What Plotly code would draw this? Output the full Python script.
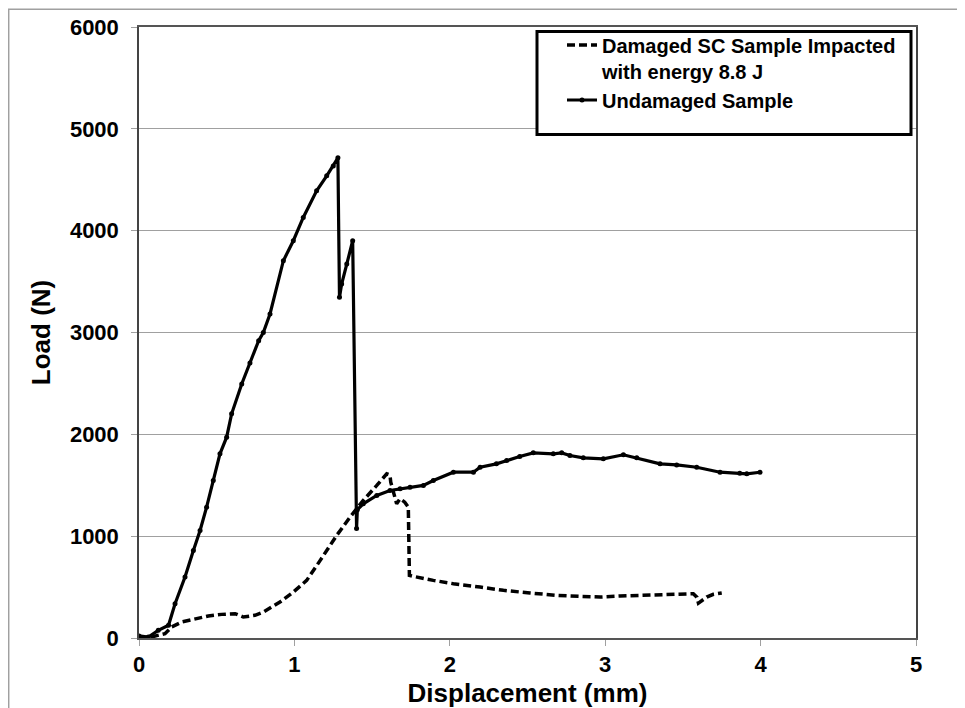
import plotly.graph_objects as go

# Damaged SC sample impacted with energy 8.8 J
dam_x = [0.0, 0.08, 0.167, 0.21, 0.275, 0.36, 0.446, 0.532, 0.618, 0.671, 0.746, 0.80,
         0.907, 0.993, 1.079, 1.165, 1.272, 1.358, 1.443, 1.53, 1.594, 1.615, 1.62,
         1.658, 1.68, 1.71, 1.733, 1.74, 1.765, 1.894, 2.023, 2.195, 2.345, 2.516,
         2.688, 2.838, 2.967, 3.095, 3.224, 3.353, 3.481, 3.567, 3.59, 3.60, 3.653,
         3.696, 3.75]
dam_y = [0, 10, 43, 108, 157, 190, 216, 232, 239, 206, 223, 255,
         353, 451, 566, 760, 1007, 1187, 1351, 1498, 1612, 1600, 1530,
         1318, 1367, 1334, 1285, 615, 605, 566, 533, 500, 468, 442,
         419, 409, 402, 412, 419, 419, 429, 435, 400, 343, 402,
         429, 442]

# Undamaged sample
und_x = [0.0, 0.06, 0.124, 0.19, 0.232, 0.296, 0.35, 0.393, 0.435, 0.478, 0.521,
         0.564, 0.596, 0.661, 0.714, 0.77, 0.80, 0.843, 0.929, 0.993, 1.057, 1.143,
         1.208, 1.25, 1.28, 1.29, 1.304, 1.337, 1.375, 1.40, 1.405, 1.443, 1.53,
         1.615, 1.68, 1.744, 1.83, 1.894, 2.023, 2.152, 2.195, 2.30, 2.366, 2.45,
         2.537, 2.666, 2.72, 2.773, 2.859, 2.988, 3.117, 3.203, 3.353, 3.46, 3.589,
         3.739, 3.866, 3.911, 3.996]
und_y = [20, 10, 75, 125, 337, 598, 860, 1056, 1285, 1547, 1809,
         1972, 2201, 2495, 2700, 2920, 3000, 3182, 3705, 3901, 4130, 4391,
         4539, 4636, 4715, 3345, 3476, 3672, 3901, 1076, 1260, 1318, 1400,
         1449, 1465, 1481, 1498, 1547, 1628, 1628, 1677, 1710, 1743, 1782,
         1818, 1809, 1818, 1792, 1769, 1760, 1799, 1769, 1710, 1700, 1677,
         1628, 1618, 1612, 1628]

x_ticks = [0, 1, 2, 3, 4, 5]
y_ticks = [0, 1000, 2000, 3000, 4000, 5000, 6000]

FONT = "Liberation Sans, Arial, sans-serif"

fig = go.Figure()
fig.add_trace(go.Scatter(
    x=dam_x, y=dam_y, mode="lines",
    name="Damaged SC Sample Impacted<br>with energy 8.8 J",
    line=dict(color="black", width=3.5, dash="8px,4px"),
))
fig.add_trace(go.Scatter(
    x=und_x, y=und_y, mode="lines+markers",
    name="Undamaged Sample",
    line=dict(color="black", width=3.2),
    marker=dict(color="black", size=5),
))

OFF = 8  # page body margin
W, H = 957, 700
L, R, T, B = 131, 49, 18.5, 70
pw, ph = W - L - R, H - T - B

def px(xp):
    return (xp - OFF - L) / pw

def py(yp):
    return (H - B - (yp - OFF)) / ph

fig.update_layout(
    width=W, height=H,
    margin=dict(l=L, r=R, t=T, b=B, autoexpand=False),
    paper_bgcolor="white", plot_bgcolor="white",
    font=dict(family=FONT, color="black"),
    showlegend=True,
    legend=dict(
        x=px(562), y=py(25), xanchor="left", yanchor="top",
        bgcolor="rgba(0,0,0,0)", borderwidth=0,
        font=dict(family=FONT, size=20, color="black", weight="bold"),
        valign="top", tracegroupgap=0,
    ),
    shapes=[
        dict(type="rect", xref="paper", yref="paper",
             x0=px(8.7), x1=1.2, y0=-0.3, y1=py(8.7),
             line=dict(color="#a0a0a0", width=1.5), layer="below"),
        dict(type="rect", xref="paper", yref="paper",
             x0=px(537), x1=px(911), y0=py(134), y1=py(31),
             line=dict(color="black", width=3), fillcolor="white", layer="above"),
    ],
)

fig.update_xaxes(
    range=[0, 5], tickvals=x_ticks, ticktext=[str(v) for v in x_ticks],
    ticks="outside", ticklen=6, tickcolor="#a0a0a0", tickwidth=1,
    showgrid=False, zeroline=False,
    showline=True, linecolor="#555555", linewidth=1.5, mirror=True,
    tickfont=dict(family=FONT, size=22, color="black", weight="bold"),
    ticklabelstandoff=0,
    title=dict(text="Displacement (mm)", standoff=14,
               font=dict(family=FONT, size=26, color="black", weight="bold")),
)
fig.update_yaxes(
    range=[0, 6000], tickvals=y_ticks, ticktext=[str(v) for v in y_ticks],
    ticks="outside", ticklen=6, tickcolor="#a0a0a0", tickwidth=1,
    showgrid=True, gridcolor="#a0a0a0", gridwidth=1.2, zeroline=False,
    showline=True, linecolor="#444444", linewidth=1.5, mirror=True,
    tickfont=dict(family=FONT, size=22, color="black", weight="bold"),
    ticklabelstandoff=8,
    title=dict(text="Load (N)", standoff=12,
               font=dict(family=FONT, size=26, color="black", weight="bold")),
)

fig.write_html("out.html")
